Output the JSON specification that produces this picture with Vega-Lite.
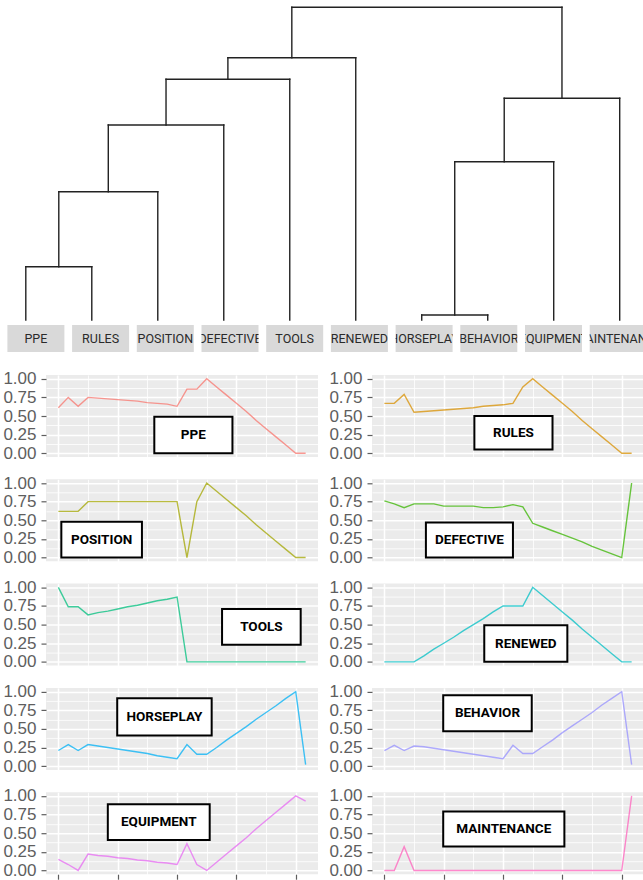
{
  "$schema": "https://vega.github.io/schema/vega-lite/v6.json",
  "background": "white",
  "padding": 0,
  "config": {
    "view": {"stroke": null},
    "axis": {"gridColor": "#FFFFFF", "domain": false, "labelFont": "Liberation Sans", "labelFontSize": 17, "labelColor": "#5e5e5e", "tickColor": "#5e5e5e", "tickSize": 5, "tickWidth": 1.2, "labelPadding": 5}
  },
  "datasets": {
    "dendro": [
      {"x": 1, "y": 0, "x2": 1, "y2": 0.533},
      {"x": 2, "y": 0, "x2": 2, "y2": 0.533},
      {"x": 1, "y": 0.533, "x2": 2, "y2": 0.533},
      {"x": 1.5, "y": 0.533, "x2": 1.5, "y2": 1.283},
      {"x": 3, "y": 0, "x2": 3, "y2": 1.283},
      {"x": 1.5, "y": 1.283, "x2": 3, "y2": 1.283},
      {"x": 2.25, "y": 1.283, "x2": 2.25, "y2": 1.95},
      {"x": 4, "y": 0, "x2": 4, "y2": 1.95},
      {"x": 2.25, "y": 1.95, "x2": 4, "y2": 1.95},
      {"x": 3.125, "y": 1.95, "x2": 3.125, "y2": 2.407},
      {"x": 5, "y": 0, "x2": 5, "y2": 2.407},
      {"x": 3.125, "y": 2.407, "x2": 5, "y2": 2.407},
      {"x": 4.0625, "y": 2.407, "x2": 4.0625, "y2": 2.623},
      {"x": 6, "y": 0, "x2": 6, "y2": 2.623},
      {"x": 4.0625, "y": 2.623, "x2": 6, "y2": 2.623},
      {"x": 7, "y": 0, "x2": 7, "y2": 0.05},
      {"x": 8, "y": 0, "x2": 8, "y2": 0.05},
      {"x": 7, "y": 0.05, "x2": 8, "y2": 0.05},
      {"x": 7.5, "y": 0.05, "x2": 7.5, "y2": 1.583},
      {"x": 9, "y": 0, "x2": 9, "y2": 1.583},
      {"x": 7.5, "y": 1.583, "x2": 9, "y2": 1.583},
      {"x": 8.25, "y": 1.583, "x2": 8.25, "y2": 2.217},
      {"x": 10, "y": 0, "x2": 10, "y2": 2.217},
      {"x": 8.25, "y": 2.217, "x2": 10, "y2": 2.217},
      {"x": 5.03125, "y": 2.623, "x2": 5.03125, "y2": 3.127},
      {"x": 9.125, "y": 2.217, "x2": 9.125, "y2": 3.127},
      {"x": 5.03125, "y": 3.127, "x2": 9.125, "y2": 3.127}
    ],
    "strip": [
      {"lab": "PPE"}, {"lab": "RULES"}, {"lab": "POSITION"}, {"lab": "DEFECTIVE"}, {"lab": "TOOLS"},
      {"lab": "RENEWED"}, {"lab": "HORSEPLAY"}, {"lab": "BEHAVIOR"}, {"lab": "EQUIPMENT"}, {"lab": "MAINTENANCE"}
    ],
    "boxes": [
      {"s": "PPE", "x1": 9.7, "x2": 17.6, "y1": 0.0, "y2": 0.49, "cx": 13.65, "cy": 0.245},
      {"s": "RULES", "x1": 9.1, "x2": 17.0, "y1": 0.05, "y2": 0.5, "cx": 13.05, "cy": 0.275},
      {"s": "POSITION", "x1": 0.3, "x2": 8.45, "y1": 0.0, "y2": 0.48, "cx": 4.375, "cy": 0.24},
      {"s": "DEFECTIVE", "x1": 4.2, "x2": 13.0, "y1": 0.0, "y2": 0.47, "cx": 8.6, "cy": 0.235},
      {"s": "TOOLS", "x1": 16.55, "x2": 24.5, "y1": 0.23, "y2": 0.71, "cx": 20.525, "cy": 0.47},
      {"s": "RENEWED", "x1": 10.1, "x2": 18.5, "y1": 0.0, "y2": 0.49, "cx": 14.3, "cy": 0.245},
      {"s": "HORSEPLAY", "x1": 5.95, "x2": 15.5, "y1": 0.41, "y2": 0.91, "cx": 10.725, "cy": 0.66},
      {"s": "BEHAVIOR", "x1": 5.95, "x2": 14.9, "y1": 0.47, "y2": 0.95, "cx": 10.425, "cy": 0.71},
      {"s": "EQUIPMENT", "x1": 5.0, "x2": 15.3, "y1": 0.41, "y2": 0.89, "cx": 10.15, "cy": 0.65},
      {"s": "MAINTENANCE", "x1": 5.95, "x2": 18.2, "y1": 0.32, "y2": 0.79, "cx": 12.075, "cy": 0.555}
    ],
    "pts": [
      {"s":"PPE","x":0,"y":0.61},{"s":"PPE","x":1,"y":0.75},{"s":"PPE","x":2,"y":0.63},{"s":"PPE","x":3,"y":0.75},{"s":"PPE","x":4,"y":0.74},{"s":"PPE","x":5,"y":0.73},{"s":"PPE","x":6,"y":0.72},{"s":"PPE","x":7,"y":0.71},{"s":"PPE","x":8,"y":0.7},{"s":"PPE","x":9,"y":0.68},{"s":"PPE","x":10,"y":0.67},{"s":"PPE","x":11,"y":0.66},{"s":"PPE","x":12,"y":0.63},{"s":"PPE","x":13,"y":0.86},{"s":"PPE","x":14,"y":0.86},{"s":"PPE","x":15,"y":1.0},{"s":"PPE","x":16,"y":0.89},{"s":"PPE","x":17,"y":0.78},{"s":"PPE","x":18,"y":0.67},{"s":"PPE","x":19,"y":0.56},{"s":"PPE","x":20,"y":0.44},{"s":"PPE","x":21,"y":0.33},{"s":"PPE","x":22,"y":0.22},{"s":"PPE","x":23,"y":0.11},{"s":"PPE","x":24,"y":0.0},{"s":"PPE","x":25,"y":0.0},
      {"s":"RULES","x":0,"y":0.67},{"s":"RULES","x":1,"y":0.67},{"s":"RULES","x":2,"y":0.79},{"s":"RULES","x":3,"y":0.55},{"s":"RULES","x":4,"y":0.56},{"s":"RULES","x":5,"y":0.57},{"s":"RULES","x":6,"y":0.58},{"s":"RULES","x":7,"y":0.59},{"s":"RULES","x":8,"y":0.6},{"s":"RULES","x":9,"y":0.61},{"s":"RULES","x":10,"y":0.63},{"s":"RULES","x":11,"y":0.64},{"s":"RULES","x":12,"y":0.65},{"s":"RULES","x":13,"y":0.67},{"s":"RULES","x":14,"y":0.89},{"s":"RULES","x":15,"y":1.0},{"s":"RULES","x":16,"y":0.89},{"s":"RULES","x":17,"y":0.78},{"s":"RULES","x":18,"y":0.67},{"s":"RULES","x":19,"y":0.56},{"s":"RULES","x":20,"y":0.44},{"s":"RULES","x":21,"y":0.33},{"s":"RULES","x":22,"y":0.22},{"s":"RULES","x":23,"y":0.11},{"s":"RULES","x":24,"y":0.0},{"s":"RULES","x":25,"y":0.0},
      {"s":"POSITION","x":0,"y":0.62},{"s":"POSITION","x":1,"y":0.62},{"s":"POSITION","x":2,"y":0.62},{"s":"POSITION","x":3,"y":0.75},{"s":"POSITION","x":4,"y":0.75},{"s":"POSITION","x":5,"y":0.75},{"s":"POSITION","x":6,"y":0.75},{"s":"POSITION","x":7,"y":0.75},{"s":"POSITION","x":8,"y":0.75},{"s":"POSITION","x":9,"y":0.75},{"s":"POSITION","x":10,"y":0.75},{"s":"POSITION","x":11,"y":0.75},{"s":"POSITION","x":12,"y":0.75},{"s":"POSITION","x":13,"y":0.0},{"s":"POSITION","x":14,"y":0.75},{"s":"POSITION","x":15,"y":1.0},{"s":"POSITION","x":16,"y":0.89},{"s":"POSITION","x":17,"y":0.78},{"s":"POSITION","x":18,"y":0.67},{"s":"POSITION","x":19,"y":0.56},{"s":"POSITION","x":20,"y":0.44},{"s":"POSITION","x":21,"y":0.33},{"s":"POSITION","x":22,"y":0.22},{"s":"POSITION","x":23,"y":0.11},{"s":"POSITION","x":24,"y":0.0},{"s":"POSITION","x":25,"y":0.0},
      {"s":"DEFECTIVE","x":0,"y":0.76},{"s":"DEFECTIVE","x":1,"y":0.72},{"s":"DEFECTIVE","x":2,"y":0.67},{"s":"DEFECTIVE","x":3,"y":0.72},{"s":"DEFECTIVE","x":4,"y":0.72},{"s":"DEFECTIVE","x":5,"y":0.72},{"s":"DEFECTIVE","x":6,"y":0.69},{"s":"DEFECTIVE","x":7,"y":0.69},{"s":"DEFECTIVE","x":8,"y":0.69},{"s":"DEFECTIVE","x":9,"y":0.69},{"s":"DEFECTIVE","x":10,"y":0.67},{"s":"DEFECTIVE","x":11,"y":0.67},{"s":"DEFECTIVE","x":12,"y":0.68},{"s":"DEFECTIVE","x":13,"y":0.71},{"s":"DEFECTIVE","x":14,"y":0.68},{"s":"DEFECTIVE","x":15,"y":0.46},{"s":"DEFECTIVE","x":16,"y":0.41},{"s":"DEFECTIVE","x":17,"y":0.36},{"s":"DEFECTIVE","x":18,"y":0.31},{"s":"DEFECTIVE","x":19,"y":0.26},{"s":"DEFECTIVE","x":20,"y":0.21},{"s":"DEFECTIVE","x":21,"y":0.15},{"s":"DEFECTIVE","x":22,"y":0.1},{"s":"DEFECTIVE","x":23,"y":0.05},{"s":"DEFECTIVE","x":24,"y":0.0},{"s":"DEFECTIVE","x":25,"y":1.0},
      {"s":"TOOLS","x":0,"y":1.0},{"s":"TOOLS","x":1,"y":0.74},{"s":"TOOLS","x":2,"y":0.74},{"s":"TOOLS","x":3,"y":0.63},{"s":"TOOLS","x":4,"y":0.66},{"s":"TOOLS","x":5,"y":0.68},{"s":"TOOLS","x":6,"y":0.71},{"s":"TOOLS","x":7,"y":0.74},{"s":"TOOLS","x":8,"y":0.76},{"s":"TOOLS","x":9,"y":0.79},{"s":"TOOLS","x":10,"y":0.82},{"s":"TOOLS","x":11,"y":0.84},{"s":"TOOLS","x":12,"y":0.87},{"s":"TOOLS","x":13,"y":0.0},{"s":"TOOLS","x":14,"y":0.0},{"s":"TOOLS","x":15,"y":0.0},{"s":"TOOLS","x":16,"y":0.0},{"s":"TOOLS","x":17,"y":0.0},{"s":"TOOLS","x":18,"y":0.0},{"s":"TOOLS","x":19,"y":0.0},{"s":"TOOLS","x":20,"y":0.0},{"s":"TOOLS","x":21,"y":0.0},{"s":"TOOLS","x":22,"y":0.0},{"s":"TOOLS","x":23,"y":0.0},{"s":"TOOLS","x":24,"y":0.0},{"s":"TOOLS","x":25,"y":0.0},
      {"s":"RENEWED","x":0,"y":0.0},{"s":"RENEWED","x":1,"y":0.0},{"s":"RENEWED","x":2,"y":0.0},{"s":"RENEWED","x":3,"y":0.0},{"s":"RENEWED","x":4,"y":0.08},{"s":"RENEWED","x":5,"y":0.17},{"s":"RENEWED","x":6,"y":0.25},{"s":"RENEWED","x":7,"y":0.33},{"s":"RENEWED","x":8,"y":0.42},{"s":"RENEWED","x":9,"y":0.5},{"s":"RENEWED","x":10,"y":0.58},{"s":"RENEWED","x":11,"y":0.67},{"s":"RENEWED","x":12,"y":0.75},{"s":"RENEWED","x":13,"y":0.75},{"s":"RENEWED","x":14,"y":0.75},{"s":"RENEWED","x":15,"y":1.0},{"s":"RENEWED","x":16,"y":0.89},{"s":"RENEWED","x":17,"y":0.78},{"s":"RENEWED","x":18,"y":0.67},{"s":"RENEWED","x":19,"y":0.56},{"s":"RENEWED","x":20,"y":0.44},{"s":"RENEWED","x":21,"y":0.33},{"s":"RENEWED","x":22,"y":0.22},{"s":"RENEWED","x":23,"y":0.11},{"s":"RENEWED","x":24,"y":0.0},{"s":"RENEWED","x":25,"y":0.0},
      {"s":"HORSEPLAY","x":0,"y":0.21},{"s":"HORSEPLAY","x":1,"y":0.29},{"s":"HORSEPLAY","x":2,"y":0.21},{"s":"HORSEPLAY","x":3,"y":0.29},{"s":"HORSEPLAY","x":4,"y":0.27},{"s":"HORSEPLAY","x":5,"y":0.25},{"s":"HORSEPLAY","x":6,"y":0.23},{"s":"HORSEPLAY","x":7,"y":0.21},{"s":"HORSEPLAY","x":8,"y":0.19},{"s":"HORSEPLAY","x":9,"y":0.17},{"s":"HORSEPLAY","x":10,"y":0.14},{"s":"HORSEPLAY","x":11,"y":0.12},{"s":"HORSEPLAY","x":12,"y":0.1},{"s":"HORSEPLAY","x":13,"y":0.29},{"s":"HORSEPLAY","x":14,"y":0.16},{"s":"HORSEPLAY","x":15,"y":0.16},{"s":"HORSEPLAY","x":16,"y":0.25},{"s":"HORSEPLAY","x":17,"y":0.35},{"s":"HORSEPLAY","x":18,"y":0.44},{"s":"HORSEPLAY","x":19,"y":0.53},{"s":"HORSEPLAY","x":20,"y":0.63},{"s":"HORSEPLAY","x":21,"y":0.72},{"s":"HORSEPLAY","x":22,"y":0.81},{"s":"HORSEPLAY","x":23,"y":0.91},{"s":"HORSEPLAY","x":24,"y":1.0},{"s":"HORSEPLAY","x":25,"y":0.02},
      {"s":"BEHAVIOR","x":0,"y":0.21},{"s":"BEHAVIOR","x":1,"y":0.28},{"s":"BEHAVIOR","x":2,"y":0.21},{"s":"BEHAVIOR","x":3,"y":0.27},{"s":"BEHAVIOR","x":4,"y":0.26},{"s":"BEHAVIOR","x":5,"y":0.24},{"s":"BEHAVIOR","x":6,"y":0.22},{"s":"BEHAVIOR","x":7,"y":0.2},{"s":"BEHAVIOR","x":8,"y":0.18},{"s":"BEHAVIOR","x":9,"y":0.16},{"s":"BEHAVIOR","x":10,"y":0.14},{"s":"BEHAVIOR","x":11,"y":0.12},{"s":"BEHAVIOR","x":12,"y":0.1},{"s":"BEHAVIOR","x":13,"y":0.28},{"s":"BEHAVIOR","x":14,"y":0.17},{"s":"BEHAVIOR","x":15,"y":0.17},{"s":"BEHAVIOR","x":16,"y":0.26},{"s":"BEHAVIOR","x":17,"y":0.35},{"s":"BEHAVIOR","x":18,"y":0.45},{"s":"BEHAVIOR","x":19,"y":0.54},{"s":"BEHAVIOR","x":20,"y":0.63},{"s":"BEHAVIOR","x":21,"y":0.72},{"s":"BEHAVIOR","x":22,"y":0.82},{"s":"BEHAVIOR","x":23,"y":0.91},{"s":"BEHAVIOR","x":24,"y":1.0},{"s":"BEHAVIOR","x":25,"y":0.02},
      {"s":"EQUIPMENT","x":0,"y":0.15},{"s":"EQUIPMENT","x":1,"y":0.08},{"s":"EQUIPMENT","x":2,"y":0.0},{"s":"EQUIPMENT","x":3,"y":0.22},{"s":"EQUIPMENT","x":4,"y":0.2},{"s":"EQUIPMENT","x":5,"y":0.19},{"s":"EQUIPMENT","x":6,"y":0.17},{"s":"EQUIPMENT","x":7,"y":0.16},{"s":"EQUIPMENT","x":8,"y":0.14},{"s":"EQUIPMENT","x":9,"y":0.13},{"s":"EQUIPMENT","x":10,"y":0.11},{"s":"EQUIPMENT","x":11,"y":0.1},{"s":"EQUIPMENT","x":12,"y":0.08},{"s":"EQUIPMENT","x":13,"y":0.36},{"s":"EQUIPMENT","x":14,"y":0.08},{"s":"EQUIPMENT","x":15,"y":0.0},{"s":"EQUIPMENT","x":16,"y":0.11},{"s":"EQUIPMENT","x":17,"y":0.22},{"s":"EQUIPMENT","x":18,"y":0.33},{"s":"EQUIPMENT","x":19,"y":0.44},{"s":"EQUIPMENT","x":20,"y":0.56},{"s":"EQUIPMENT","x":21,"y":0.67},{"s":"EQUIPMENT","x":22,"y":0.78},{"s":"EQUIPMENT","x":23,"y":0.89},{"s":"EQUIPMENT","x":24,"y":1.0},{"s":"EQUIPMENT","x":25,"y":0.93},
      {"s":"MAINTENANCE","x":0,"y":0.0},{"s":"MAINTENANCE","x":1,"y":0.0},{"s":"MAINTENANCE","x":2,"y":0.32},{"s":"MAINTENANCE","x":3,"y":0.0},{"s":"MAINTENANCE","x":4,"y":0.0},{"s":"MAINTENANCE","x":5,"y":0.0},{"s":"MAINTENANCE","x":6,"y":0.0},{"s":"MAINTENANCE","x":7,"y":0.0},{"s":"MAINTENANCE","x":8,"y":0.0},{"s":"MAINTENANCE","x":9,"y":0.0},{"s":"MAINTENANCE","x":10,"y":0.0},{"s":"MAINTENANCE","x":11,"y":0.0},{"s":"MAINTENANCE","x":12,"y":0.0},{"s":"MAINTENANCE","x":13,"y":0.0},{"s":"MAINTENANCE","x":14,"y":0.0},{"s":"MAINTENANCE","x":15,"y":0.0},{"s":"MAINTENANCE","x":16,"y":0.0},{"s":"MAINTENANCE","x":17,"y":0.0},{"s":"MAINTENANCE","x":18,"y":0.0},{"s":"MAINTENANCE","x":19,"y":0.0},{"s":"MAINTENANCE","x":20,"y":0.0},{"s":"MAINTENANCE","x":21,"y":0.0},{"s":"MAINTENANCE","x":22,"y":0.0},{"s":"MAINTENANCE","x":23,"y":0.0},{"s":"MAINTENANCE","x":24,"y":0.0},{"s":"MAINTENANCE","x":25,"y":1.0}
    ]
  },
  "spacing": 17,
  "vconcat": [
    {
      "spacing": 3,
      "vconcat": [
        {
          "width": 643, "height": 322,
          "data": {"name": "dendro"},
          "mark": {"type": "rule", "color": "#222222", "strokeWidth": 1.4, "strokeCap": "square"},
          "encoding": {
            "x": {"field": "x", "type": "quantitative", "scale": {"domain": [0.609, 10.353], "nice": false, "zero": false}, "axis": null},
            "x2": {"field": "x2"},
            "y": {"field": "y", "type": "quantitative", "scale": {"domain": [-0.02, 3.2], "nice": false, "zero": false}, "axis": null},
            "y2": {"field": "y2"}
          }
        },
        {
          "spacing": 2.4,
          "hconcat": [
            {"width": 5, "height": 27, "data": {"values": []}, "mark": "point"},
            {
              "data": {"name": "strip"},
              "facet": {"column": {"field": "lab", "type": "nominal", "sort": ["PPE", "RULES", "POSITION", "DEFECTIVE", "TOOLS", "RENEWED", "HORSEPLAY", "BEHAVIOR", "EQUIPMENT", "MAINTENANCE"], "header": null}},
              "spacing": 7.7,
              "spec": {
                "width": 57, "height": 27,
                "view": {"fill": "#D9D9D9", "stroke": null},
                "mark": {"type": "text", "clip": true, "font": "Roboto", "fontSize": 12.5, "color": "#2a2a2a", "baseline": "middle", "align": "center"},
                "encoding": {"text": {"field": "lab"}}
              }
            }
          ]
        }
      ]
    },
    {
      "spacing": 0,
      "hconcat": [
        {"width": 2, "height": 1, "data": {"values": []}, "mark": "point"},
        {
          "spacing": 11.3,
          "vconcat": [
            {"spacing": 10, "hconcat": [
              {"width": 272, "height": 82, "view": {"fill": "#EBEBEB", "stroke": null},
               "resolve": {"axis": {"x": "independent", "y": "independent"}},
               "layer": [
                {"data": {"name": "pts"}, "transform": [{"filter": "datum.s === 'PPE'"}],
                 "mark": {"type": "line", "color": "#F8766D", "strokeWidth": 1.4, "opacity": 0.75},
                 "encoding": {
                   "x": {"field": "x", "type": "quantitative", "scale": {"domain": [-1.25, 26.25], "nice": false, "zero": false}, "axis": {"values": [0, 6, 12, 18, 24], "grid": true, "gridWidth": 1.5, "labels": false, "ticks": false, "title": null}},
                   "y": {"field": "y", "type": "quantitative", "scale": {"domain": [-0.05, 1.05], "nice": false, "zero": false}, "axis": {"values": [0, 0.25, 0.5, 0.75, 1], "format": ".2f", "grid": true, "gridWidth": 1.5, "title": null}}}},
                {"data": {"name": "boxes"}, "transform": [{"filter": "datum.s === 'PPE'"}],
                 "mark": {"type": "rect", "fill": "white", "stroke": "black", "strokeWidth": 2},
                 "encoding": {
                   "x": {"field": "x1", "type": "quantitative", "axis": {"orient": "top", "values": [3, 9, 15, 21], "grid": true, "gridWidth": 0.8, "labels": false, "ticks": false, "title": null}}, "x2": {"field": "x2"},
                   "y": {"field": "y1", "type": "quantitative", "axis": {"orient": "right", "values": [0.125, 0.375, 0.625, 0.875], "grid": true, "gridWidth": 0.8, "labels": false, "ticks": false, "title": null}}, "y2": {"field": "y2"}}},
                {"data": {"name": "boxes"}, "transform": [{"filter": "datum.s === 'PPE'"}],
                 "mark": {"type": "text", "font": "Roboto", "fontWeight": "bold", "fontSize": 13.5, "color": "black", "baseline": "middle", "align": "center"},
                 "encoding": {"x": {"field": "cx", "type": "quantitative", "axis": null}, "y": {"field": "cy", "type": "quantitative", "axis": null}, "text": {"field": "s"}}}
               ]},
              {"width": 272, "height": 82, "view": {"fill": "#EBEBEB", "stroke": null},
               "resolve": {"axis": {"x": "independent", "y": "independent"}},
               "layer": [
                {"data": {"name": "pts"}, "transform": [{"filter": "datum.s === 'RULES'"}],
                 "mark": {"type": "line", "color": "#D89000", "strokeWidth": 1.4, "opacity": 0.75},
                 "encoding": {
                   "x": {"field": "x", "type": "quantitative", "scale": {"domain": [-1.25, 26.25], "nice": false, "zero": false}, "axis": {"values": [0, 6, 12, 18, 24], "grid": true, "gridWidth": 1.5, "labels": false, "ticks": false, "title": null}},
                   "y": {"field": "y", "type": "quantitative", "scale": {"domain": [-0.05, 1.05], "nice": false, "zero": false}, "axis": {"values": [0, 0.25, 0.5, 0.75, 1], "format": ".2f", "grid": true, "gridWidth": 1.5, "title": null}}}},
                {"data": {"name": "boxes"}, "transform": [{"filter": "datum.s === 'RULES'"}],
                 "mark": {"type": "rect", "fill": "white", "stroke": "black", "strokeWidth": 2},
                 "encoding": {
                   "x": {"field": "x1", "type": "quantitative", "axis": {"orient": "top", "values": [3, 9, 15, 21], "grid": true, "gridWidth": 0.8, "labels": false, "ticks": false, "title": null}}, "x2": {"field": "x2"},
                   "y": {"field": "y1", "type": "quantitative", "axis": {"orient": "right", "values": [0.125, 0.375, 0.625, 0.875], "grid": true, "gridWidth": 0.8, "labels": false, "ticks": false, "title": null}}, "y2": {"field": "y2"}}},
                {"data": {"name": "boxes"}, "transform": [{"filter": "datum.s === 'RULES'"}],
                 "mark": {"type": "text", "font": "Roboto", "fontWeight": "bold", "fontSize": 13.5, "color": "black", "baseline": "middle", "align": "center"},
                 "encoding": {"x": {"field": "cx", "type": "quantitative", "axis": null}, "y": {"field": "cy", "type": "quantitative", "axis": null}, "text": {"field": "s"}}}
               ]}
            ]},
            {"spacing": 10, "hconcat": [
              {"width": 272, "height": 82, "view": {"fill": "#EBEBEB", "stroke": null},
               "resolve": {"axis": {"x": "independent", "y": "independent"}},
               "layer": [
                {"data": {"name": "pts"}, "transform": [{"filter": "datum.s === 'POSITION'"}],
                 "mark": {"type": "line", "color": "#A3A500", "strokeWidth": 1.4, "opacity": 0.75},
                 "encoding": {
                   "x": {"field": "x", "type": "quantitative", "scale": {"domain": [-1.25, 26.25], "nice": false, "zero": false}, "axis": {"values": [0, 6, 12, 18, 24], "grid": true, "gridWidth": 1.5, "labels": false, "ticks": false, "title": null}},
                   "y": {"field": "y", "type": "quantitative", "scale": {"domain": [-0.05, 1.05], "nice": false, "zero": false}, "axis": {"values": [0, 0.25, 0.5, 0.75, 1], "format": ".2f", "grid": true, "gridWidth": 1.5, "title": null}}}},
                {"data": {"name": "boxes"}, "transform": [{"filter": "datum.s === 'POSITION'"}],
                 "mark": {"type": "rect", "fill": "white", "stroke": "black", "strokeWidth": 2},
                 "encoding": {
                   "x": {"field": "x1", "type": "quantitative", "axis": {"orient": "top", "values": [3, 9, 15, 21], "grid": true, "gridWidth": 0.8, "labels": false, "ticks": false, "title": null}}, "x2": {"field": "x2"},
                   "y": {"field": "y1", "type": "quantitative", "axis": {"orient": "right", "values": [0.125, 0.375, 0.625, 0.875], "grid": true, "gridWidth": 0.8, "labels": false, "ticks": false, "title": null}}, "y2": {"field": "y2"}}},
                {"data": {"name": "boxes"}, "transform": [{"filter": "datum.s === 'POSITION'"}],
                 "mark": {"type": "text", "font": "Roboto", "fontWeight": "bold", "fontSize": 13.5, "color": "black", "baseline": "middle", "align": "center"},
                 "encoding": {"x": {"field": "cx", "type": "quantitative", "axis": null}, "y": {"field": "cy", "type": "quantitative", "axis": null}, "text": {"field": "s"}}}
               ]},
              {"width": 272, "height": 82, "view": {"fill": "#EBEBEB", "stroke": null},
               "resolve": {"axis": {"x": "independent", "y": "independent"}},
               "layer": [
                {"data": {"name": "pts"}, "transform": [{"filter": "datum.s === 'DEFECTIVE'"}],
                 "mark": {"type": "line", "color": "#39B600", "strokeWidth": 1.4, "opacity": 0.75},
                 "encoding": {
                   "x": {"field": "x", "type": "quantitative", "scale": {"domain": [-1.25, 26.25], "nice": false, "zero": false}, "axis": {"values": [0, 6, 12, 18, 24], "grid": true, "gridWidth": 1.5, "labels": false, "ticks": false, "title": null}},
                   "y": {"field": "y", "type": "quantitative", "scale": {"domain": [-0.05, 1.05], "nice": false, "zero": false}, "axis": {"values": [0, 0.25, 0.5, 0.75, 1], "format": ".2f", "grid": true, "gridWidth": 1.5, "title": null}}}},
                {"data": {"name": "boxes"}, "transform": [{"filter": "datum.s === 'DEFECTIVE'"}],
                 "mark": {"type": "rect", "fill": "white", "stroke": "black", "strokeWidth": 2},
                 "encoding": {
                   "x": {"field": "x1", "type": "quantitative", "axis": {"orient": "top", "values": [3, 9, 15, 21], "grid": true, "gridWidth": 0.8, "labels": false, "ticks": false, "title": null}}, "x2": {"field": "x2"},
                   "y": {"field": "y1", "type": "quantitative", "axis": {"orient": "right", "values": [0.125, 0.375, 0.625, 0.875], "grid": true, "gridWidth": 0.8, "labels": false, "ticks": false, "title": null}}, "y2": {"field": "y2"}}},
                {"data": {"name": "boxes"}, "transform": [{"filter": "datum.s === 'DEFECTIVE'"}],
                 "mark": {"type": "text", "font": "Roboto", "fontWeight": "bold", "fontSize": 13.5, "color": "black", "baseline": "middle", "align": "center"},
                 "encoding": {"x": {"field": "cx", "type": "quantitative", "axis": null}, "y": {"field": "cy", "type": "quantitative", "axis": null}, "text": {"field": "s"}}}
               ]}
            ]},
            {"spacing": 10, "hconcat": [
              {"width": 272, "height": 82, "view": {"fill": "#EBEBEB", "stroke": null},
               "resolve": {"axis": {"x": "independent", "y": "independent"}},
               "layer": [
                {"data": {"name": "pts"}, "transform": [{"filter": "datum.s === 'TOOLS'"}],
                 "mark": {"type": "line", "color": "#00BF7D", "strokeWidth": 1.4, "opacity": 0.75},
                 "encoding": {
                   "x": {"field": "x", "type": "quantitative", "scale": {"domain": [-1.25, 26.25], "nice": false, "zero": false}, "axis": {"values": [0, 6, 12, 18, 24], "grid": true, "gridWidth": 1.5, "labels": false, "ticks": false, "title": null}},
                   "y": {"field": "y", "type": "quantitative", "scale": {"domain": [-0.05, 1.05], "nice": false, "zero": false}, "axis": {"values": [0, 0.25, 0.5, 0.75, 1], "format": ".2f", "grid": true, "gridWidth": 1.5, "title": null}}}},
                {"data": {"name": "boxes"}, "transform": [{"filter": "datum.s === 'TOOLS'"}],
                 "mark": {"type": "rect", "fill": "white", "stroke": "black", "strokeWidth": 2},
                 "encoding": {
                   "x": {"field": "x1", "type": "quantitative", "axis": {"orient": "top", "values": [3, 9, 15, 21], "grid": true, "gridWidth": 0.8, "labels": false, "ticks": false, "title": null}}, "x2": {"field": "x2"},
                   "y": {"field": "y1", "type": "quantitative", "axis": {"orient": "right", "values": [0.125, 0.375, 0.625, 0.875], "grid": true, "gridWidth": 0.8, "labels": false, "ticks": false, "title": null}}, "y2": {"field": "y2"}}},
                {"data": {"name": "boxes"}, "transform": [{"filter": "datum.s === 'TOOLS'"}],
                 "mark": {"type": "text", "font": "Roboto", "fontWeight": "bold", "fontSize": 13.5, "color": "black", "baseline": "middle", "align": "center"},
                 "encoding": {"x": {"field": "cx", "type": "quantitative", "axis": null}, "y": {"field": "cy", "type": "quantitative", "axis": null}, "text": {"field": "s"}}}
               ]},
              {"width": 272, "height": 82, "view": {"fill": "#EBEBEB", "stroke": null},
               "resolve": {"axis": {"x": "independent", "y": "independent"}},
               "layer": [
                {"data": {"name": "pts"}, "transform": [{"filter": "datum.s === 'RENEWED'"}],
                 "mark": {"type": "line", "color": "#00BFC4", "strokeWidth": 1.4, "opacity": 0.75},
                 "encoding": {
                   "x": {"field": "x", "type": "quantitative", "scale": {"domain": [-1.25, 26.25], "nice": false, "zero": false}, "axis": {"values": [0, 6, 12, 18, 24], "grid": true, "gridWidth": 1.5, "labels": false, "ticks": false, "title": null}},
                   "y": {"field": "y", "type": "quantitative", "scale": {"domain": [-0.05, 1.05], "nice": false, "zero": false}, "axis": {"values": [0, 0.25, 0.5, 0.75, 1], "format": ".2f", "grid": true, "gridWidth": 1.5, "title": null}}}},
                {"data": {"name": "boxes"}, "transform": [{"filter": "datum.s === 'RENEWED'"}],
                 "mark": {"type": "rect", "fill": "white", "stroke": "black", "strokeWidth": 2},
                 "encoding": {
                   "x": {"field": "x1", "type": "quantitative", "axis": {"orient": "top", "values": [3, 9, 15, 21], "grid": true, "gridWidth": 0.8, "labels": false, "ticks": false, "title": null}}, "x2": {"field": "x2"},
                   "y": {"field": "y1", "type": "quantitative", "axis": {"orient": "right", "values": [0.125, 0.375, 0.625, 0.875], "grid": true, "gridWidth": 0.8, "labels": false, "ticks": false, "title": null}}, "y2": {"field": "y2"}}},
                {"data": {"name": "boxes"}, "transform": [{"filter": "datum.s === 'RENEWED'"}],
                 "mark": {"type": "text", "font": "Roboto", "fontWeight": "bold", "fontSize": 13.5, "color": "black", "baseline": "middle", "align": "center"},
                 "encoding": {"x": {"field": "cx", "type": "quantitative", "axis": null}, "y": {"field": "cy", "type": "quantitative", "axis": null}, "text": {"field": "s"}}}
               ]}
            ]},
            {"spacing": 10, "hconcat": [
              {"width": 272, "height": 82, "view": {"fill": "#EBEBEB", "stroke": null},
               "resolve": {"axis": {"x": "independent", "y": "independent"}},
               "layer": [
                {"data": {"name": "pts"}, "transform": [{"filter": "datum.s === 'HORSEPLAY'"}],
                 "mark": {"type": "line", "color": "#00B0F6", "strokeWidth": 1.4, "opacity": 0.75},
                 "encoding": {
                   "x": {"field": "x", "type": "quantitative", "scale": {"domain": [-1.25, 26.25], "nice": false, "zero": false}, "axis": {"values": [0, 6, 12, 18, 24], "grid": true, "gridWidth": 1.5, "labels": false, "ticks": false, "title": null}},
                   "y": {"field": "y", "type": "quantitative", "scale": {"domain": [-0.05, 1.05], "nice": false, "zero": false}, "axis": {"values": [0, 0.25, 0.5, 0.75, 1], "format": ".2f", "grid": true, "gridWidth": 1.5, "title": null}}}},
                {"data": {"name": "boxes"}, "transform": [{"filter": "datum.s === 'HORSEPLAY'"}],
                 "mark": {"type": "rect", "fill": "white", "stroke": "black", "strokeWidth": 2},
                 "encoding": {
                   "x": {"field": "x1", "type": "quantitative", "axis": {"orient": "top", "values": [3, 9, 15, 21], "grid": true, "gridWidth": 0.8, "labels": false, "ticks": false, "title": null}}, "x2": {"field": "x2"},
                   "y": {"field": "y1", "type": "quantitative", "axis": {"orient": "right", "values": [0.125, 0.375, 0.625, 0.875], "grid": true, "gridWidth": 0.8, "labels": false, "ticks": false, "title": null}}, "y2": {"field": "y2"}}},
                {"data": {"name": "boxes"}, "transform": [{"filter": "datum.s === 'HORSEPLAY'"}],
                 "mark": {"type": "text", "font": "Roboto", "fontWeight": "bold", "fontSize": 13.5, "color": "black", "baseline": "middle", "align": "center"},
                 "encoding": {"x": {"field": "cx", "type": "quantitative", "axis": null}, "y": {"field": "cy", "type": "quantitative", "axis": null}, "text": {"field": "s"}}}
               ]},
              {"width": 272, "height": 82, "view": {"fill": "#EBEBEB", "stroke": null},
               "resolve": {"axis": {"x": "independent", "y": "independent"}},
               "layer": [
                {"data": {"name": "pts"}, "transform": [{"filter": "datum.s === 'BEHAVIOR'"}],
                 "mark": {"type": "line", "color": "#9590FF", "strokeWidth": 1.4, "opacity": 0.75},
                 "encoding": {
                   "x": {"field": "x", "type": "quantitative", "scale": {"domain": [-1.25, 26.25], "nice": false, "zero": false}, "axis": {"values": [0, 6, 12, 18, 24], "grid": true, "gridWidth": 1.5, "labels": false, "ticks": false, "title": null}},
                   "y": {"field": "y", "type": "quantitative", "scale": {"domain": [-0.05, 1.05], "nice": false, "zero": false}, "axis": {"values": [0, 0.25, 0.5, 0.75, 1], "format": ".2f", "grid": true, "gridWidth": 1.5, "title": null}}}},
                {"data": {"name": "boxes"}, "transform": [{"filter": "datum.s === 'BEHAVIOR'"}],
                 "mark": {"type": "rect", "fill": "white", "stroke": "black", "strokeWidth": 2},
                 "encoding": {
                   "x": {"field": "x1", "type": "quantitative", "axis": {"orient": "top", "values": [3, 9, 15, 21], "grid": true, "gridWidth": 0.8, "labels": false, "ticks": false, "title": null}}, "x2": {"field": "x2"},
                   "y": {"field": "y1", "type": "quantitative", "axis": {"orient": "right", "values": [0.125, 0.375, 0.625, 0.875], "grid": true, "gridWidth": 0.8, "labels": false, "ticks": false, "title": null}}, "y2": {"field": "y2"}}},
                {"data": {"name": "boxes"}, "transform": [{"filter": "datum.s === 'BEHAVIOR'"}],
                 "mark": {"type": "text", "font": "Roboto", "fontWeight": "bold", "fontSize": 13.5, "color": "black", "baseline": "middle", "align": "center"},
                 "encoding": {"x": {"field": "cx", "type": "quantitative", "axis": null}, "y": {"field": "cy", "type": "quantitative", "axis": null}, "text": {"field": "s"}}}
               ]}
            ]},
            {"spacing": 10, "hconcat": [
              {"width": 272, "height": 82, "view": {"fill": "#EBEBEB", "stroke": null},
               "resolve": {"axis": {"x": "independent", "y": "independent"}},
               "layer": [
                {"data": {"name": "pts"}, "transform": [{"filter": "datum.s === 'EQUIPMENT'"}],
                 "mark": {"type": "line", "color": "#E76BF3", "strokeWidth": 1.4, "opacity": 0.75},
                 "encoding": {
                   "x": {"field": "x", "type": "quantitative", "scale": {"domain": [-1.25, 26.25], "nice": false, "zero": false}, "axis": {"values": [0, 6, 12, 18, 24], "grid": true, "gridWidth": 1.5, "labels": false, "title": null}},
                   "y": {"field": "y", "type": "quantitative", "scale": {"domain": [-0.05, 1.05], "nice": false, "zero": false}, "axis": {"values": [0, 0.25, 0.5, 0.75, 1], "format": ".2f", "grid": true, "gridWidth": 1.5, "title": null}}}},
                {"data": {"name": "boxes"}, "transform": [{"filter": "datum.s === 'EQUIPMENT'"}],
                 "mark": {"type": "rect", "fill": "white", "stroke": "black", "strokeWidth": 2},
                 "encoding": {
                   "x": {"field": "x1", "type": "quantitative", "axis": {"orient": "top", "values": [3, 9, 15, 21], "grid": true, "gridWidth": 0.8, "labels": false, "ticks": false, "title": null}}, "x2": {"field": "x2"},
                   "y": {"field": "y1", "type": "quantitative", "axis": {"orient": "right", "values": [0.125, 0.375, 0.625, 0.875], "grid": true, "gridWidth": 0.8, "labels": false, "ticks": false, "title": null}}, "y2": {"field": "y2"}}},
                {"data": {"name": "boxes"}, "transform": [{"filter": "datum.s === 'EQUIPMENT'"}],
                 "mark": {"type": "text", "font": "Roboto", "fontWeight": "bold", "fontSize": 13.5, "color": "black", "baseline": "middle", "align": "center"},
                 "encoding": {"x": {"field": "cx", "type": "quantitative", "axis": null}, "y": {"field": "cy", "type": "quantitative", "axis": null}, "text": {"field": "s"}}}
               ]},
              {"width": 272, "height": 82, "view": {"fill": "#EBEBEB", "stroke": null},
               "resolve": {"axis": {"x": "independent", "y": "independent"}},
               "layer": [
                {"data": {"name": "pts"}, "transform": [{"filter": "datum.s === 'MAINTENANCE'"}],
                 "mark": {"type": "line", "color": "#FF62BC", "strokeWidth": 1.4, "opacity": 0.75},
                 "encoding": {
                   "x": {"field": "x", "type": "quantitative", "scale": {"domain": [-1.25, 26.25], "nice": false, "zero": false}, "axis": {"values": [0, 6, 12, 18, 24], "grid": true, "gridWidth": 1.5, "labels": false, "title": null}},
                   "y": {"field": "y", "type": "quantitative", "scale": {"domain": [-0.05, 1.05], "nice": false, "zero": false}, "axis": {"values": [0, 0.25, 0.5, 0.75, 1], "format": ".2f", "grid": true, "gridWidth": 1.5, "title": null}}}},
                {"data": {"name": "boxes"}, "transform": [{"filter": "datum.s === 'MAINTENANCE'"}],
                 "mark": {"type": "rect", "fill": "white", "stroke": "black", "strokeWidth": 2},
                 "encoding": {
                   "x": {"field": "x1", "type": "quantitative", "axis": {"orient": "top", "values": [3, 9, 15, 21], "grid": true, "gridWidth": 0.8, "labels": false, "ticks": false, "title": null}}, "x2": {"field": "x2"},
                   "y": {"field": "y1", "type": "quantitative", "axis": {"orient": "right", "values": [0.125, 0.375, 0.625, 0.875], "grid": true, "gridWidth": 0.8, "labels": false, "ticks": false, "title": null}}, "y2": {"field": "y2"}}},
                {"data": {"name": "boxes"}, "transform": [{"filter": "datum.s === 'MAINTENANCE'"}],
                 "mark": {"type": "text", "font": "Roboto", "fontWeight": "bold", "fontSize": 13.5, "color": "black", "baseline": "middle", "align": "center"},
                 "encoding": {"x": {"field": "cx", "type": "quantitative", "axis": null}, "y": {"field": "cy", "type": "quantitative", "axis": null}, "text": {"field": "s"}}}
               ]}
            ]}
          ]
        }
      ]
    }
  ]
}
